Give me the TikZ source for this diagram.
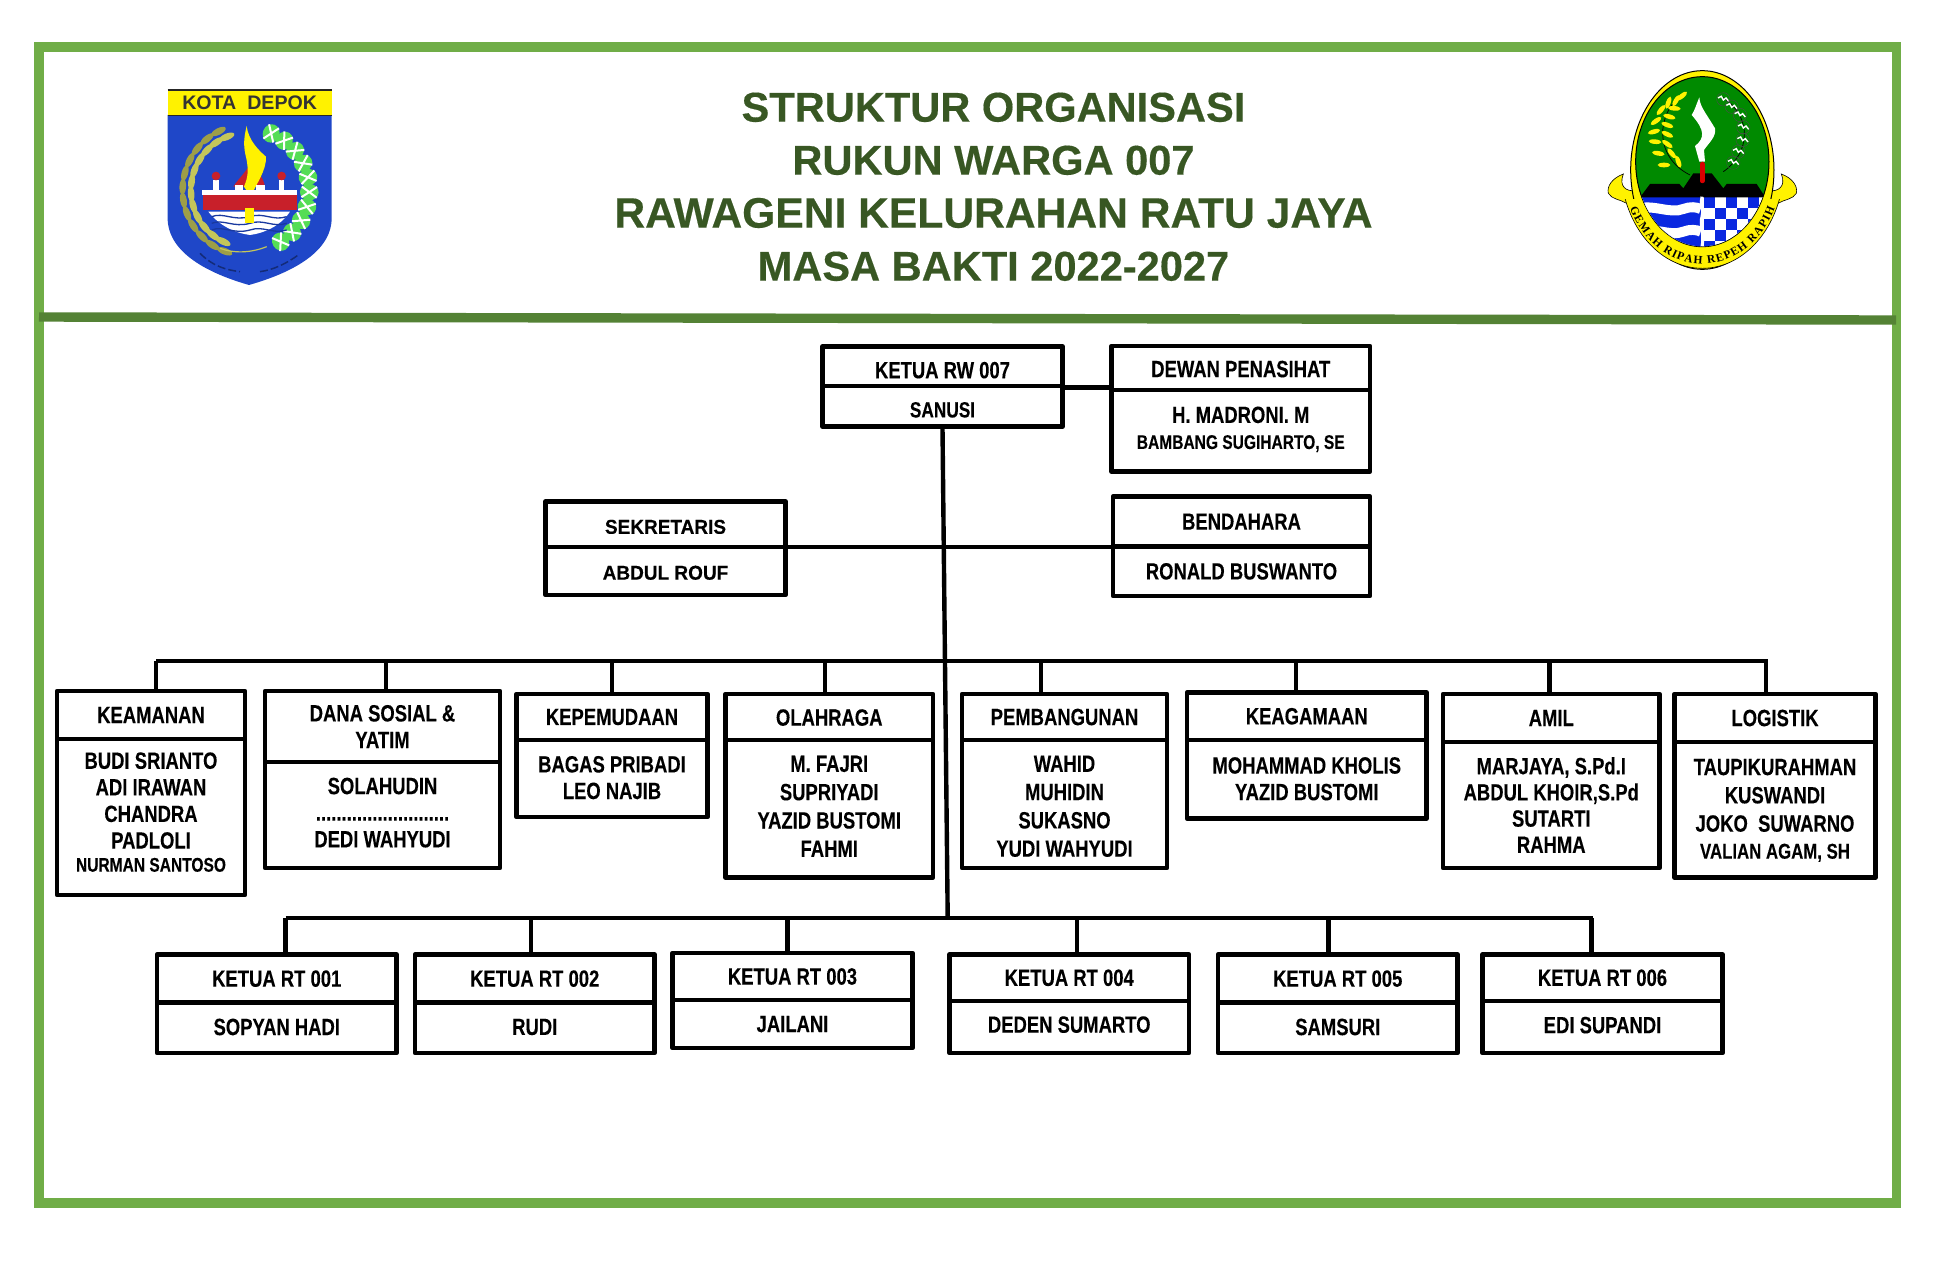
\documentclass[tikz,border=0pt]{standalone}
\usepackage{fontspec}
\usetikzlibrary{decorations.text}
\setmainfont{Liberation Sans}
\newfontfamily\judulfont[FakeBold=0.35]{Liberation Sans}
\newfontfamily\isi[FakeStretch=0.785,FakeBold=0.2]{Liberation Sans}
\newfontfamily\isilebar[FakeStretch=0.95,FakeBold=0.2]{Liberation Sans}
\newfontfamily\pita{Liberation Serif}
\newcommand{\kecil}{\fontsize{19.8}{23}\selectfont}
\newcommand{\naik}[1]{\\[\dimexpr #1*2-\baselineskip\relax]\mbox{}}

\definecolor{bingkai}{HTML}{70AD47}
\definecolor{pemisah}{HTML}{548235}
\definecolor{judulhijau}{HTML}{385723}
\definecolor{kuninglogo}{HTML}{FFF200}
\definecolor{biruperisai}{HTML}{1F47C8}
\definecolor{padi}{HTML}{C4C65A}
\definecolor{kapas}{HTML}{55DD55}
\definecolor{merahlogo}{HTML}{C8202A}
\definecolor{hijaulogo}{HTML}{008A00}
\definecolor{birulogo}{HTML}{0A28E0}

\tikzset{
    kotak/.style={draw=black,line width=4.8pt,line join=round,rectangle,inner sep=0pt,align=center,
        font=\isi\bfseries\fontsize{23.5}{26.6}\selectfont},
    garis/.style={draw=black,line width=4.4pt}
}

\begin{document}
\begin{tikzpicture}[x=1pt,y=-1pt]
    \useasboundingbox (0,0) rectangle (1950,1270);
    \fill[white] (0,0) rectangle (1950,1270);

    % Bingkai
    \draw[bingkai,line width=9.4pt] (39,47) rectangle (1896.5,1203);
    \draw[pemisah,line width=9.4pt] (39,317) -- (1896,320);

    % Judul
    \node[font=\judulfont\bfseries\fontsize{41.6}{53}\selectfont,text=judulhijau,align=center] (judul) at (993.5,186.8)
        {STRUKTUR ORGANISASI\\RUKUN WARGA 007\\{\fontsize{42.6}{53}\selectfont RAWAGENI KELURAHAN RATU JAYA}\\MASA BAKTI 2022-2027};

    % Logo kiri
    \begin{scope}[shift={(100,40)},x=0.3333pt,y=-0.3333pt]
        \fill[biruperisai] (203,225) -- (695,225) -- (695,540) .. controls (690,640) and (570,700) .. (447,735)
            .. controls (325,700) and (208,640) .. (203,540) -- cycle;
        \fill[kuninglogo] (203,150) rectangle (695,225);
        \draw[black!85,line width=1.3pt] (203,150) -- (695,150) (203,226) -- (695,226);
        \node[font=\bfseries\fontsize{19.6}{20}\selectfont,text=black!80] (kotadepok) at (449,189) {KOTA\ \ DEPOK};
        % padi
        \foreach \a in {112,124,...,250} {
            \fill[padi,shift={(445,450)},rotate=\a] (172,0) ellipse [x radius=10,y radius=24];
            \fill[padi!80!black,shift={(445,450)},rotate=\a+5] (197,0) ellipse [x radius=10,y radius=24];
        }
        \draw[padi,line width=1.2pt] (360,625) .. controls (400,640) and (450,640) .. (500,620);
        % kapas
        \foreach \a in {-58,-44,...,70} {
            \fill[kapas,shift={(445,450)},rotate=\a] (183,0) ellipse [x radius=28,y radius=25];
            \draw[white,line width=2pt,shift={(445,450)},rotate=\a] (160,-16) -- (206,16) (160,16) -- (206,-16);
        }
        % api
        \fill[merahlogo] (400,440) .. controls (420,410) and (440,395) .. (450,370) .. controls (470,390) and (490,410) .. (495,440) -- cycle;
        \fill[kuninglogo] (440,258) .. controls (445,300) and (475,330) .. (498,350) .. controls (500,390) and (470,430) .. (452,470)
            -- (432,440) .. controls (445,410) and (445,390) .. (440,360) .. controls (430,320) and (430,300) .. (440,258) -- cycle;
        % bangunan
        \fill[white] (305,450) rectangle (590,465);
        \fill[merahlogo] (310,465) rectangle (590,510);
        \foreach \x in {348,545} {
            \fill[white] (\x-8,420) rectangle (\x+8,450);
            \fill[merahlogo] (\x,408) circle [radius=13];
        }
        \fill[white] (405,435) rectangle (430,450);
        \fill[white] (468,435) rectangle (495,450);
        % air
        \fill[white] (325,515) -- (570,515) .. controls (540,560) and (490,580) .. (450,585) .. controls (410,580) and (360,560) .. (325,515) -- cycle;
        \foreach \y in {530,550,570} {
            \draw[biruperisai!80!black,line width=1.3pt] (335,\y) .. controls (370,\y-14) and (400,\y+14) .. (450,\y) .. controls (490,\y-14) and (520,\y+14) .. (560,\y);
        }
        \fill[kuninglogo] (435,505) rectangle (462,550);
        % tulisan kecil
        \draw[biruperisai!60!black,line width=1.5pt,dash pattern=on 8pt off 3pt] (300,640) .. controls (340,680) and (380,690) .. (420,695);
        \draw[biruperisai!60!black,line width=1.5pt,dash pattern=on 8pt off 3pt] (480,695) .. controls (520,690) and (560,670) .. (595,645);
    \end{scope}

    % Logo kanan
    \begin{scope}[shift={(1580,40)},x=0.3333pt,y=-0.3333pt]
        % ekor pita
        \foreach \s in {1,-1} {
            \filldraw[fill=kuninglogo,draw=black,line width=0.6pt,shift={(367,0)},xscale=\s] (-237,402) .. controls (-272,415) and (-287,440) .. (-282,460)
                .. controls (-272,478) and (-247,478) .. (-227,490) -- (-192,470) -- (-202,452)
                .. controls (-227,455) and (-252,440) .. (-237,402) -- cycle;
        }
        \filldraw[fill=kuninglogo,draw=black,line width=1pt] (367,390) ellipse [x radius=215,y radius=298];
        \begin{scope}
            \clip (100,478) rectangle (640,700);
            \filldraw[fill=kuninglogo,draw=black,line width=0.6pt] (367,375) ellipse [x radius=245,y radius=310];
        \end{scope}
        \filldraw[fill=hijaulogo,draw=black,line width=1pt] (367,365) ellipse [x radius=200,y radius=255];
        \begin{scope}
            \clip (367,365) ellipse [x radius=199,y radius=254];
            \fill[white] (160,470) rectangle (570,630);
            % air
            \fill[birulogo] (160,470) rectangle (362,630);
            \foreach \y in {507,575} {
                \draw[white,line width=10pt] (170,\y) .. controls (220,\y-16) and (270,\y+16) .. (310,\y) .. controls (330,\y-8) and (350,\y-6) .. (362,\y);
            }
            % kotak-kotak
            \foreach \i in {0,...,5} {
                \foreach \j in {0,...,4} {
                    \pgfmathparse{int(mod(\i+\j,2))}
                    \ifnum\pgfmathresult=0
                        \fill[birulogo] (372+33*\i,470+33*\j) rectangle (405+33*\i,503+33*\j);
                    \fi
                }
            }
            % gunung
            \fill[black] (180,472) -- (210,432) -- (298,432) -- (310,445) -- (340,400) -- (395,400) -- (430,445) -- (440,432) -- (530,432) -- (556,472) -- cycle;
        \end{scope}
        % padi
        \draw[black,line width=0.7pt] (305,165) .. controls (230,220) and (220,350) .. (330,405);
        \foreach \x/\y/\a in {306/168/40,288/182/60,265/188/70,243/210/50,228/243/35,222/275/15,225/305/-5,235/340/-10,252/375/0,
                              283/205/-5,268/230/-15,262/255/-20,262/283/-25,262/312/-35,275/340/-50,295/365/-70} {
            \fill[kuninglogo,shift={(\x,\y)},rotate=\a] (0,0) ellipse [x radius=19,y radius=7];
        }
        % kapas
        \draw[black,line width=0.7pt] (430,395) .. controls (510,340) and (520,230) .. (425,170);
        \foreach \x/\y in {430/178,455/200,480/225,490/262,488/300,475/335,460/368} {
            \draw[black!70,line width=0.4pt] (\x,\y) circle [radius=20];
            \draw[white,line width=1.4pt,shift={(\x,\y)}] (-16,-4) -- (-6,-9) -- (0,2) -- (8,-4) -- (16,6);
        }
        % keris
        \fill[white] (358,172) .. controls (360,200) and (375,215) .. (405,265) .. controls (410,290) and (385,310) .. (372,330)
            -- (375,365) -- (358,365) -- (345,318) .. controls (375,295) and (375,270) .. (335,225)
            .. controls (345,210) and (350,190) .. (358,172) -- cycle;
        \draw[red!85!black,line width=4.5pt,line cap=round] (367,372) -- (367,423);
        \draw[white,line width=3pt] (366,470) .. controls (358,490) and (374,510) .. (366,530) .. controls (358,550) and (374,590) .. (366,618);
        % semboyan
        \path[decorate,decoration={text along path,text align=fit to path,
            text={|\pita\bfseries\fontsize{11.5}{12}\selectfont|GEMAH RIPAH REPEH RAPIH}}]
            (150,505) .. controls (185,600) and (270,672) .. (367,672) .. controls (464,672) and (549,600) .. (584,505);
    \end{scope}

    % Pengurus inti
    \node[kotak,minimum width=240pt,minimum height=39.3pt,text height=24pt] (ketua) at (942.5,366.35) {KETUA RW 007};
    \node[kotak,minimum width=240pt,minimum height=40.5pt,text height=22.5pt,font=\isi\bfseries\fontsize{22}{24}\selectfont] (ketuaisi) at (942.5,406.25) {SANUSI};
    \node[kotak,minimum width=258.5pt,minimum height=44pt,text height=18.5pt] (dewan) at (1240.75,368) {DEWAN PENASIHAT};
    \node[kotak,minimum width=258.5pt,minimum height=81.5pt] (dewanisi) at (1240.75,430.75) {H. MADRONI. M\\[-0.6pt]{\kecil BAMBANG SUGIHARTO, SE}\naik{3pt}};
    \node[kotak,minimum width=240pt,minimum height=45.3pt,text height=19pt,font=\isilebar\bfseries\fontsize{20}{24}\selectfont] (sekretaris) at (665.5,524.35) {SEKRETARIS};
    \node[kotak,minimum width=240pt,minimum height=48pt,text height=17.5pt,font=\isilebar\bfseries\fontsize{20}{24}\selectfont] (sekretarisisi) at (665.5,571) {ABDUL ROUF};
    \node[kotak,minimum width=257pt,minimum height=50.2pt] (bendahara) at (1241.5,521.6) {BENDAHARA};
    \node[kotak,minimum width=257pt,minimum height=49.3pt] (bendaharaisi) at (1241.5,571.35) {RONALD BUSWANTO};

    % Seksi
    \node[kotak,minimum width=188pt,minimum height=48pt] (keamanan) at (151,715) {KEAMANAN};
    \node[kotak,minimum width=188pt,minimum height=156pt] (keamananisi) at (151,817) {BUDI SRIANTO\\ADI IRAWAN\\CHANDRA\\PADLOLI\\[-3.5pt]{\kecil NURMAN SANTOSO}\naik{5pt}};
    \node[kotak,minimum width=235pt,minimum height=71pt] (dana) at (382.5,726.5) {DANA SOSIAL \&\\YATIM};
    \node[kotak,minimum width=235pt,minimum height=106pt] (danaisi) at (382.5,815) {SOLAHUDIN\\..........................\\DEDI WAHYUDI\naik{2.5pt}};
    \node[kotak,minimum width=191pt,minimum height=46pt] (pemuda) at (612,717) {KEPEMUDAAN};
    \node[kotak,minimum width=191pt,minimum height=77pt] (pemudaisi) at (612,778.5) {BAGAS PRIBADI\\LEO NAJIB\naik{1pt}};
    \node[kotak,minimum width=207.5pt,minimum height=46pt,text height=17.5pt] (olahraga) at (829.25,717) {OLAHRAGA};
    \node[kotak,minimum width=207.5pt,minimum height=137.5pt] (olahragaisi) at (829.25,808.75) {M. FAJRI\\[1.7pt]SUPRIYADI\\[1.7pt]YAZID BUSTOMI\\[1.7pt]FAHMI\naik{2.5pt}};
    \node[kotak,minimum width=205pt,minimum height=46pt] (bangun) at (1064.5,717) {PEMBANGUNAN};
    \node[kotak,minimum width=205pt,minimum height=128pt] (bangunisi) at (1064.5,804) {\mbox{}\\[-5.9pt]WAHID\\[1.7pt]MUHIDIN\\[1.7pt]SUKASNO\\[1.7pt]YUDI WAHYUDI};
    \node[kotak,minimum width=239.5pt,minimum height=47.5pt] (agama) at (1306.75,716.25) {KEAGAMAAN};
    \node[kotak,minimum width=239.5pt,minimum height=78.5pt] (agamaisi) at (1306.75,779.25) {MOHAMMAD KHOLIS\\YAZID BUSTOMI\naik{0.6pt}};
    \node[kotak,minimum width=216.5pt,minimum height=48pt] (amil) at (1551.25,718) {AMIL};
    \node[kotak,minimum width=216.5pt,minimum height=126pt] (amilisi) at (1551.25,805) {MARJAYA, S.Pd.I\\[-0.4pt]ABDUL KHOIR,S.Pd\\[-0.4pt]SUTARTI\\[-0.4pt]RAHMA};
    \node[kotak,minimum width=201pt,minimum height=48pt] (logistik) at (1775,718) {LOGISTIK};
    \node[kotak,minimum width=201pt,minimum height=135.5pt] (logistikisi) at (1775,809.75) {TAUPIKURAHMAN\\[1.7pt]KUSWANDI\\[1.7pt]JOKO\ \ SUWARNO\\[0.4pt]{\fontsize{21.4}{24}\selectfont VALIAN AGAM, SH}\naik{1pt}};

    % Ketua RT
    \foreach \n/\cx/\lebar/\ya/\ta/\yb/\tb/\turun/\judulrt/\namart in {
        rta/276.75/239.5/978.6/48.2/1027.85/50.3/2/KETUA RT 001/SOPYAN HADI,
        rtb/534.75/239.5/978.6/48.2/1027.85/50.3/2/KETUA RT 002/RUDI,
        rtc/792.5/240/976.5/47/1024/48/0/KETUA RT 003/JAILANI,
        rtd/1069.25/239.5/977.75/46.5/1027/52/5/KETUA RT 004/DEDEN SUMARTO,
        rte/1337.75/239.5/978.6/48.2/1027.85/50.3/2/KETUA RT 005/SAMSURI,
        rtf/1602.5/240/977.75/46.5/1027/52/4/KETUA RT 006/EDI SUPANDI} {
        \node[kotak,minimum width=\lebar pt,minimum height=\ta pt] (\n) at (\cx,\ya) {\judulrt};
        \node[kotak,minimum width=\lebar pt,minimum height=\tb pt,text depth=\turun pt] (\n isi) at (\cx,\yb) {\namart};
    }

    % Garis penghubung
    \coordinate (busa) at (156,661);
    \coordinate (busakanan) at (1768,661);
    \coordinate (busb) at (285.5,918);
    \coordinate (busbkanan) at (1593,918);
    \coordinate (tengahb) at (947.7,918);
    \draw[garis] (ketua.east |- 0,387.3) -- (dewan.west |- 0,387.3);
    \draw[garis] (ketuaisi.south) -- (tengahb);
    \draw[garis] (sekretaris.east |- 0,546.9) -- (bendahara.west |- 0,546.9);
    \draw[garis,line cap=square] (busa) -- (busakanan);
    \draw[garis,line cap=square] (busb) -- (busbkanan);
    \foreach \nama/\x in {keamanan/156,dana/386,pemuda/612,olahraga/825,bangun/1040.7,agama/1295.7,amil/1549.6,logistik/1766} {
        \draw[garis] (\x,661) -- (\nama.north -| \x,661);
    }
    \foreach \nama/\x in {rta/285.5,rtb/531,rtc/787.5,rtd/1077,rte/1328.5,rtf/1591.6} {
        \draw[garis] (\x,918) -- (\nama.north -| \x,918);
    }
\end{tikzpicture}
\end{document}
